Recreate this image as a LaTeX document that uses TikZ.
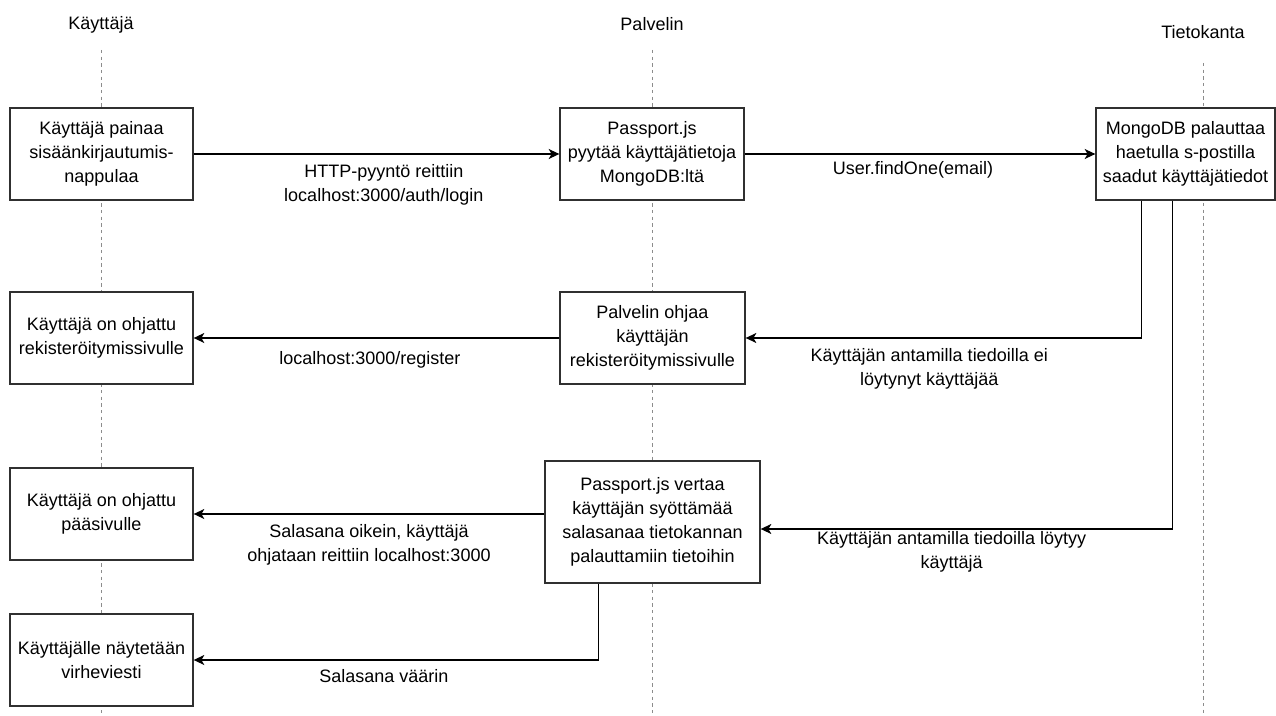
\documentclass[tikz,border=0pt]{standalone}
\usepackage{fontspec}
\setmainfont{Liberation Sans}
\usepackage{xcolor}
\usetikzlibrary{arrows.meta,calc}
\definecolor{lifegray}{HTML}{8c8c8c}
\definecolor{boxline}{HTML}{303030}

\begin{document}
\begin{tikzpicture}[x=0.75pt, y=-0.75pt, >={Stealth[length=8pt, width=7.5pt, inset=2.2pt]},
  font=\fontsize{13.5}{18}\selectfont,
  actor/.style={inner sep=0pt},
  lifeline/.style={draw=lifegray, line width=0.75pt, dash pattern=on 2.5pt off 2.5pt},
  stepbox/.style={draw=boxline, line width=1pt, fill=white, align=center, inner sep=2pt, minimum height=69pt},
  msg/.style={->, line width=1pt},
  lbl/.style={align=center, inner sep=0pt}]

  \fill[white] (0,0) rectangle (1276,716);
  \useasboundingbox (0,0) rectangle (1276,716);

  % ================= LIFELINES =================
  \node[actor] (user) at (101,25) {Käyttäjä};
  \node[actor] (server) at (652,24) {Palvelin};
  \node[actor] (db) at (1203,32) {Tietokanta};
  \coordinate (bottom) at (0,713);

  \draw[lifeline] ($(user)+(0,25)$) -- (user |- bottom);
  \draw[lifeline] ($(server)+(0,26)$) -- (server |- bottom);
  \draw[lifeline] ($(db)+(0,31)$) -- (db |- bottom);

  % ================= STEPS =================
  % Row 1: login request
  \node[stepbox, minimum width=137.25pt] (login) at (101.5,154)
    {Käyttäjä painaa\\sisäänkirjautumis-\\nappulaa};
  \node[stepbox, minimum width=138pt] (fetch) at (652,154)
    {Passport.js\\pyytää käyttäjätietoja\\MongoDB:ltä};
  \node[stepbox, minimum width=134.25pt] (mongo) at (1185.5,154)
    {MongoDB palauttaa\\haetulla s-postilla\\saadut käyttäjätiedot};

  % Row 2: no user found
  \node[stepbox, minimum width=137.25pt] (regpage) at (101.5,338)
    {Käyttäjä on ohjattu\\rekisteröitymissivulle};
  \node[stepbox, minimum width=138.75pt] (redir) at (652.5,338)
    {Palvelin ohjaa\\käyttäjän\\rekisteröitymissivulle};

  % Row 3: password check
  \node[stepbox, minimum width=161.25pt, minimum height=91.5pt] (compare) at (652.5,522)
    {Passport.js vertaa\\käyttäjän syöttämää\\salasanaa tietokannan\\palauttamiin tietoihin};
  \node[stepbox, minimum width=137.25pt] (mainpage) at (101.5,514)
    {Käyttäjä on ohjattu\\pääsivulle};
  \node[stepbox, minimum width=137.25pt] (errpage) at (101.5,660)
    {Käyttäjälle näytetään\\virheviesti};

  % ================= MESSAGES =================
  \draw[msg] (login.east) -- node[lbl, pos=0.52, yshift=-23.25pt]
    {HTTP-pyyntö reittiin\\localhost:3000/auth/login} (fetch.west);
  \draw[msg] (fetch.east) -- node[lbl, pos=0.48, yshift=-12pt]
    {User.findOne(email)} (mongo.west);

  \draw[msg] ($(mongo.south west)+(46,0)$) |- node[lbl, pos=0.768, yshift=-22.9pt]
    {Käyttäjän antamilla tiedoilla ei\\löytynyt käyttäjää} (redir.east);
  \draw[msg] (redir.west) -- node[lbl, pos=0.518, yshift=-16.5pt]
    {localhost:3000/register} (regpage.east);

  \draw[msg] ($(mongo.south west)+(77,0)$) |- node[lbl, pos=0.768, yshift=-17.25pt]
    {Käyttäjän antamilla tiedoilla löytyy\\käyttäjä} ($(compare.east)+(0,7)$);
  \draw[msg] (compare.west |- mainpage.east) -- node[lbl, midway, yshift=-23.25pt]
    {Salasana oikein, käyttäjä\\ohjataan reittiin localhost:3000} (mainpage.east);
  \draw[msg] ($(compare.south west)+(54,0)$) |- node[lbl, pos=0.765, yshift=-12pt]
    {Salasana väärin} (errpage.east);

\end{tikzpicture}
\end{document}
